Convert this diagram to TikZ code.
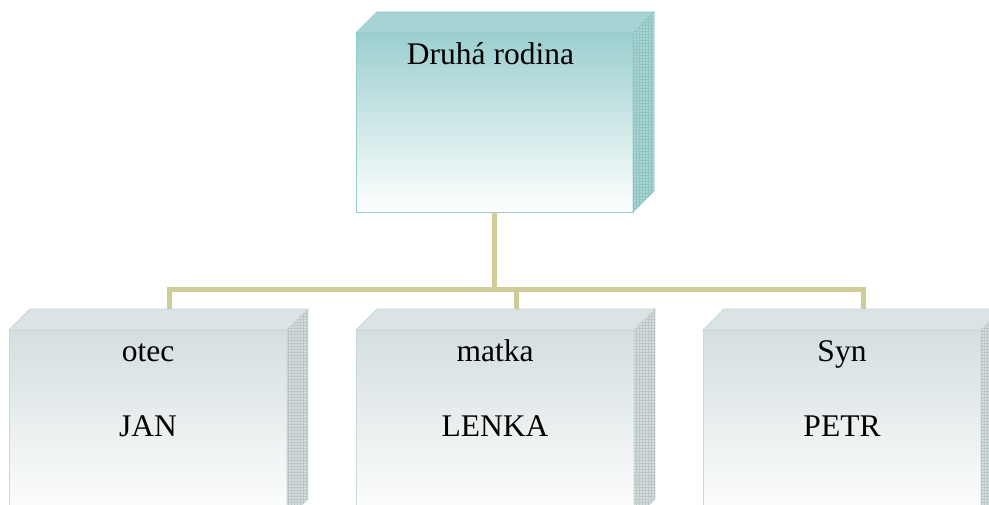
\documentclass[tikz,border=0pt]{standalone}
\usepackage{fontspec}
\setmainfont{Liberation Serif}
\usetikzlibrary{positioning,calc,patterns}

\definecolor{tealTop}{HTML}{9CCFCF}
\definecolor{tealEdge}{HTML}{96CCCC}
\definecolor{tealSide}{HTML}{AAD4D4}
\definecolor{tealGrid}{HTML}{92C4C4}
\definecolor{grayTop}{HTML}{D4DEE0}
\definecolor{grayEdge}{HTML}{CBD8D9}
\definecolor{graySide}{HTML}{D3DCDD}
\definecolor{grayGrid}{HTML}{BCC7C8}
\definecolor{wireColor}{HTML}{CFCC98}

\begin{document}
\begin{tikzpicture}[
    x=1pt, y=-1pt,
    headBox/.style={rectangle, draw=tealEdge, line width=0.8pt, top color=tealTop, bottom color=white, minimum width=277pt, minimum height=179pt, inner sep=0pt, outer sep=0pt},
    memberBox/.style={rectangle, draw=grayEdge, line width=0.8pt, top color=grayTop, bottom color=white, minimum width=278pt, minimum height=190pt, inner sep=0pt, outer sep=0pt},
    tealTopFace/.style={fill=tealTop!90!white, draw=tealEdge, line width=0.8pt},
    tealSideFace/.style={fill=tealSide, draw=tealEdge, line width=0.8pt, postaction={pattern=grid, pattern color=tealGrid}},
    grayTopFace/.style={fill=grayTop!85!white, draw=grayEdge, line width=0.8pt},
    graySideFace/.style={fill=graySide, draw=grayEdge, line width=0.8pt, postaction={pattern=grid, pattern color=grayGrid}},
    nameText/.style={anchor=base, inner sep=0pt, font=\fontsize{31.5}{36}\selectfont},
    wire/.style={draw=wireColor, line width=5pt}
]
\useasboundingbox (0,0) rectangle (989,505);
\clip (0,0) rectangle (989,505);

% Family head
\node[headBox] (head) at (494.5,122.5) {};
\filldraw[tealTopFace] (head.north west) -- ++(21,-21) -- ($(head.north east)+(21,-21)$) -- (head.north east) -- cycle;
\filldraw[tealSideFace] (head.north east) -- ++(21,-21) -- ($(head.south east)+(21,-21)$) -- (head.south east) -- cycle;
\node[nameText] (headName) at ($(head.north)+(-4,32)$) {Druhá rodina};

% Members
\node[memberBox] (jan) at (148,425) {};
\node[memberBox, right=69pt of jan] (lenka) {};
\node[memberBox, right=69pt of lenka] (petr) {};

\foreach \n in {jan,lenka,petr} {
  \filldraw[grayTopFace] (\n.north west) -- ++(21,-21) -- ($(\n.north east)+(21,-21)$) -- (\n.north east) -- cycle;
  \filldraw[graySideFace] (\n.north east) -- ++(21,-21) -- ($(\n.south east)+(21,-21)$) -- (\n.south east) -- cycle;
  \coordinate (\n-back) at ($(\n.north)+(21,-21)$);
}

\node[nameText] (janRole) at ($(jan.north)+(0,32)$) {otec};
\node[nameText] (janName) at ($(jan.north)+(0,106)$) {JAN};
\node[nameText] (lenkaRole) at ($(lenka.north)+(0,32)$) {matka};
\node[nameText] (lenkaName) at ($(lenka.north)+(0,106)$) {LENKA};
\node[nameText] (petrRole) at ($(petr.north)+(0,32)$) {Syn};
\node[nameText] (petrName) at ($(petr.north)+(0,106)$) {PETR};

% Connectors
\coordinate (hub) at ($(head.south)+(0,78)$);
\draw[wire] (head.south) -- (hub);
\draw[wire] (jan-back) |- (hub -| petr-back) -- (petr-back);
\draw[wire] (hub -| lenka-back) -- (lenka-back);

\end{tikzpicture}
\end{document}
